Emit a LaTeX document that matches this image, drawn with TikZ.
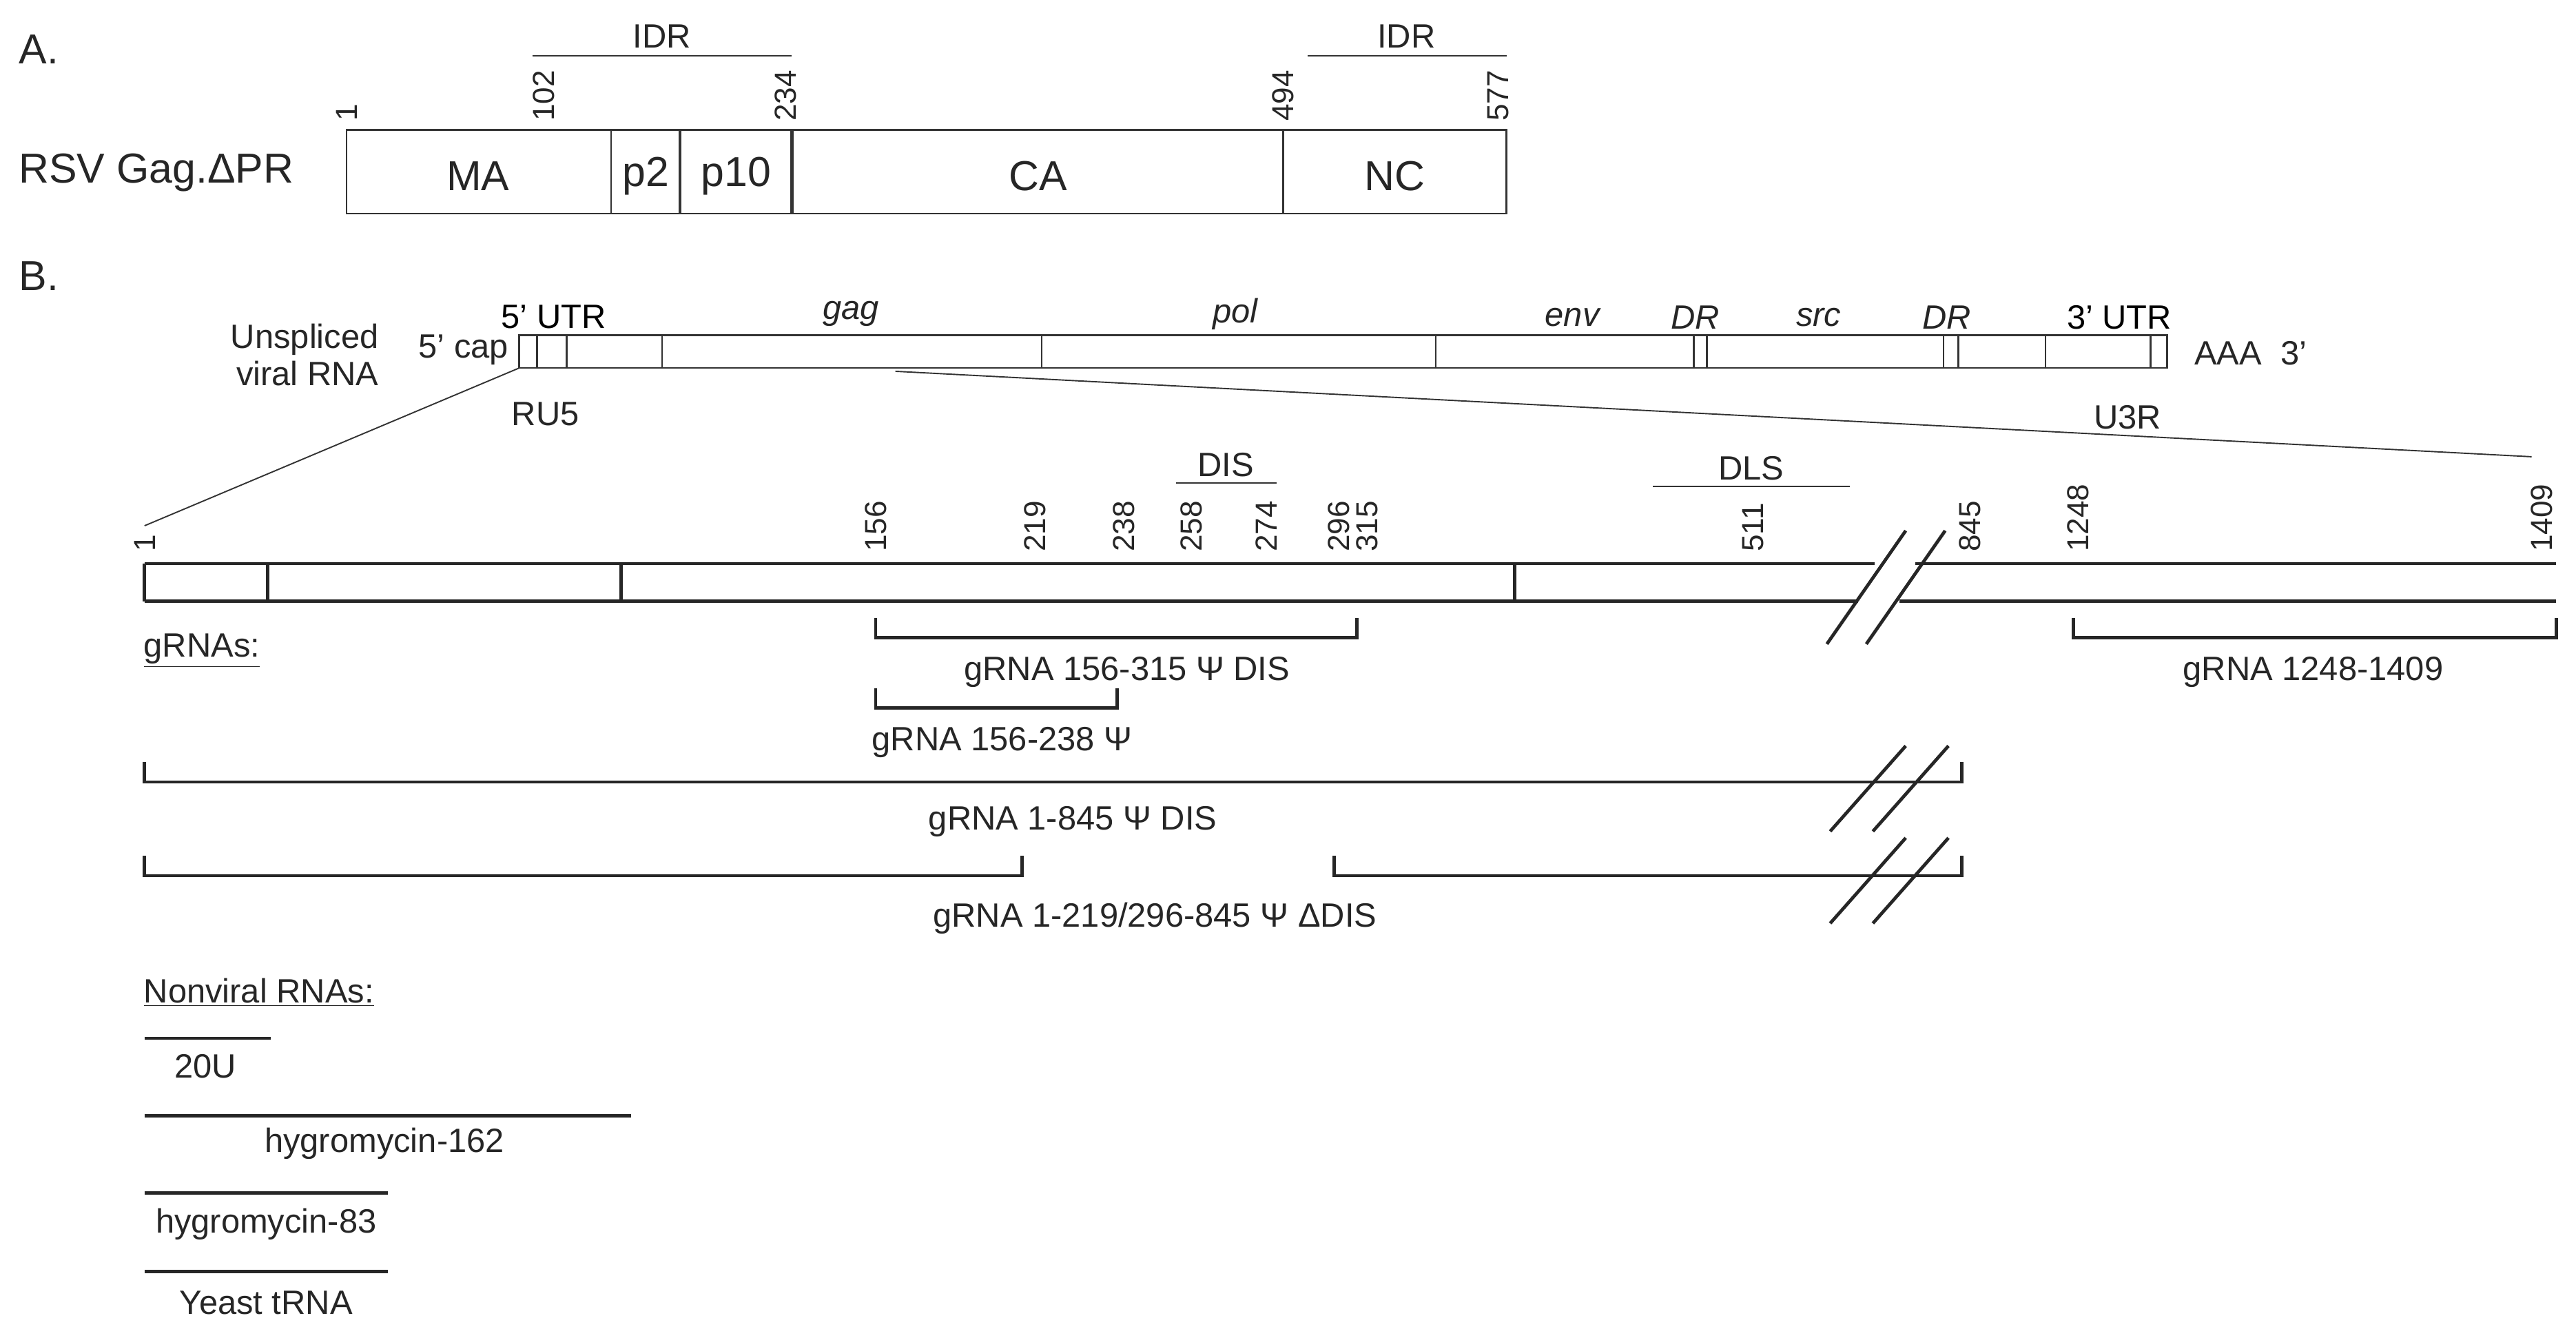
\documentclass[tikz,border=0pt]{standalone}
\usepackage{fontspec}
\setmainfont{Liberation Sans}
\begin{document}
\begin{tikzpicture}[x=1pt,y=-1pt,
  ln/.style={draw=black!80,line width=1.1pt},
  tk/.style={draw=black!85,line width=2pt},
  big/.style={font=\fontsize{25.5}{27}\selectfont,text=black!85},
  lab/.style={font=\fontsize{20.5}{23}\selectfont,text=black!85},
  num/.style={font=\fontsize{18.5}{20}\selectfont,text=black!85,rotate=90,anchor=west,inner sep=1pt}]
\useasboundingbox (0,0) rectangle (1568,814.4);
% A
\node[big,anchor=west] (A) at (8,30) {A.};
\node[big,anchor=west] (rsv) at (8,105) {RSV Gag.ΔPR};
\draw[ln] (211,79) rectangle (917,130);
\foreach \x in {372,414,482,781} \draw[ln] (\x,79) -- (\x,130);
\draw[ln,line width=1.8pt] (414,79) -- (414,130) (482,79) -- (482,130);
\node[big] (ma) at (291,107) {MA};
\node[big] (p2) at (393,107) {p2};
\node[big] (p10) at (448,107) {p10};
\node[big] (ca) at (632,107) {CA};
\node[big] (nc) at (849,107) {NC};
\foreach \x/\t in {211/1,331/102,478/234,781/494,912/577} \node[num] at (\x,75) {\t};
\draw[ln] (324,34) -- (482,34); \node[lab] (idr1) at (403,22) {IDR};
\draw[ln] (796,34) -- (917,34); \node[lab] (idr2) at (856,22) {IDR};
% B
\node[big,anchor=west] (B) at (8,168) {B.};
\node[lab,align=right,anchor=east] (unsp) at (234,216) {Unspliced\\viral RNA};
\node[lab,anchor=east] (cap) at (313,213) {5' cap};
\draw[ln] (316,204) rectangle (1319,224);
\foreach \x in {327,345,403,634,874,1031,1039,1183,1192,1245,1309} \draw[ln] (\x,204) -- (\x,224);
\node[lab,text=black] at (337,193) {5' UTR};
\node[lab,font=\fontsize{20.5}{23}\selectfont\itshape] at (518,191) {gag};
\node[lab,font=\fontsize{20.5}{23}\selectfont\itshape] at (752,191) {pol};
\node[lab,font=\fontsize{20.5}{23}\selectfont\itshape] at (957,193) {env};
\node[lab,font=\fontsize{20.5}{23}\selectfont\itshape] at (1032,193) {DR};
\node[lab,font=\fontsize{20.5}{23}\selectfont\itshape] at (1107,193) {src};
\node[lab,font=\fontsize{20.5}{23}\selectfont\itshape] at (1185,193) {DR};
\node[lab,text=black] at (1290,193) {3' UTR};
\node[lab] at (1370,215) {AAA\ \ 3'};
\node[lab] at (332,252) {RU5};
\node[lab] at (1295,254) {U3R};
\draw[ln,line width=0.8pt] (316,224) -- (88,320);
\draw[ln,line width=0.8pt] (545,226) -- (1541,278);
% main bar
\draw[tk] (88,343) -- (1141,343) (1166,343) -- (1556,343);
\draw[tk] (88,366) -- (1131,366) (1156,366) -- (1556,366);
\foreach \x in {88,163,378,922} \draw[tk] (\x,343) -- (\x,366);
\draw[tk] (1112,392) -- (1160,323) (1136,392) -- (1184,323);
\foreach \x/\t in {88/1,533/156,630/219,684/238,725/258,771/274,815/296,832/315,1067/511,1199/845,1265/1248,1547/1409} \node[num] at (\x,337) {\t};
\draw[ln] (716,294) -- (777,294); \node[lab] (dis) at (746,283) {DIS};
\draw[ln] (1006,296) -- (1126,296); \node[lab] (dls) at (1066,285) {DLS};
% gRNAs
\node[lab,anchor=west] (g) at (84,396) {\underline{gRNAs:}};
\draw[tk] (533,376) -- (533,388) -- (826,388) -- (826,376);
\node[lab] at (686,409) {gRNA 156-315 Ψ DIS};
\draw[tk] (533,419) -- (533,431) -- (680,431) -- (680,419);
\node[lab] at (610,452) {gRNA 156-238 Ψ};
\draw[tk] (88,464) -- (88,476) -- (1194,476) -- (1194,464);
\draw[tk] (1114,506) -- (1160,454) (1140,506) -- (1186,454);
\node[lab] at (653,500) {gRNA 1-845 Ψ DIS};
\draw[tk] (88,521) -- (88,533) -- (622,533) -- (622,521);
\draw[tk] (812,521) -- (812,533) -- (1194,533) -- (1194,521);
\draw[tk] (1114,562) -- (1160,510) (1140,562) -- (1186,510);
\node[lab] at (703,559) {gRNA 1-219/296-845 Ψ ΔDIS};
\draw[tk] (1262,376) -- (1262,388) -- (1556,388) -- (1556,376);
\node[lab] at (1408,409) {gRNA 1248-1409};
% nonviral
\node[lab,anchor=west] (nv) at (84,604) {\underline{Nonviral RNAs:}};
\draw[tk] (88,632) -- (165,632); \node[lab] at (125,649) {20U};
\draw[tk] (88,679) -- (384,679); \node[lab] at (234,696) {hygromycin-162};
\draw[tk] (88,726) -- (236,726); \node[lab] at (162,745) {hygromycin-83};
\draw[tk] (88,774) -- (236,774); \node[lab] at (162,793) {Yeast tRNA};
\end{tikzpicture}
\end{document}
